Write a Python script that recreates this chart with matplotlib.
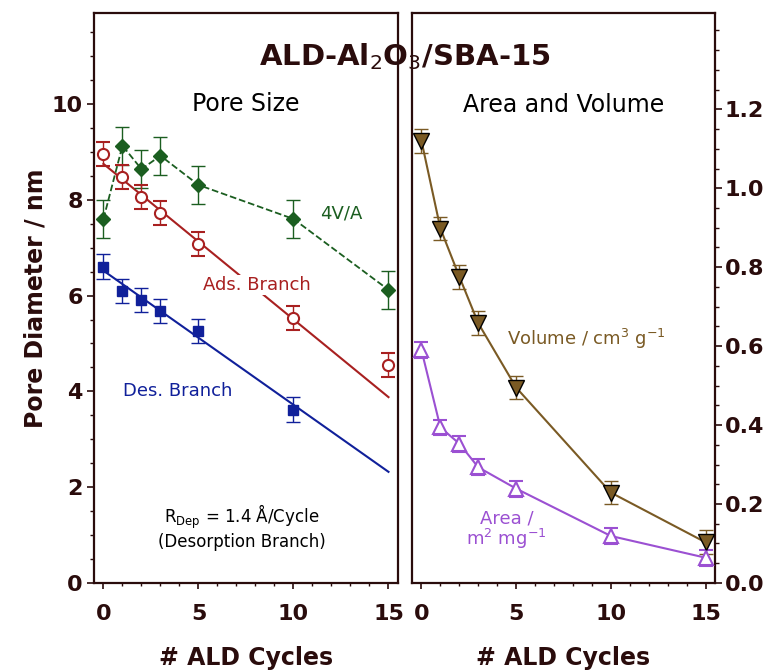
import matplotlib
matplotlib.use('Agg')
import matplotlib.pyplot as plt
from matplotlib.ticker import MultipleLocator, FixedLocator, FormatStrFormatter

plt.rcParams['font.family'] = ['DejaVu Sans']
plt.rcParams['mathtext.default'] = 'regular'

dark = '#2a0c0c'

# pore size data (nm) vs # ALD cycles
des_x = [0, 1, 2, 3, 5, 10]
des_y = [6.6, 6.1, 5.91, 5.67, 5.27, 3.62]
des_err = [0.26, 0.25, 0.25, 0.25, 0.25, 0.26]

cycles = [0, 1, 2, 3, 5, 10, 15]
ads_y = [8.96, 8.48, 8.05, 7.72, 7.07, 5.54, 4.55]
ads_err = [0.25, 0.25, 0.25, 0.25, 0.25, 0.25, 0.25]
va_y = [7.6, 9.13, 8.64, 8.92, 8.31, 7.6, 6.12]
va_err = [0.4, 0.4, 0.4, 0.4, 0.4, 0.4, 0.4]

# linear fits (end points)
fit_x = [0, 15]
des_fit = [6.52, 2.32]
ads_fit = [8.75, 3.88]

# area and volume
volume = [1.12, 0.898, 0.776, 0.658, 0.495, 0.229, 0.103]
vol_err = [0.03, 0.03, 0.03, 0.03, 0.03, 0.03, 0.03]
area = [0.59, 0.394, 0.353, 0.293, 0.239, 0.119, 0.064]
area_err = [0.02, 0.02, 0.02, 0.02, 0.02, 0.02, 0.02]

right_major = [0.0, 0.2, 0.4, 0.6, 0.8, 1.0, 1.2]

blue = '#10209a'
red = '#a82020'
green = '#1b5e20'
brown = '#7a5a24'
purple = '#9b50d2'

fig = plt.figure(figsize=(7.74, 6.70), dpi=100)
ax1 = fig.add_axes([0.1214, 0.1299, 0.3928, 0.8507])
ax2 = fig.add_axes([0.5323, 0.1299, 0.3915, 0.8507])

# ---- left panel: pore size
ax1.plot(fit_x, ads_fit, color=red, lw=1.5, zorder=2)
ax1.plot(fit_x, des_fit, color=blue, lw=1.5, zorder=2)
ax1.errorbar(cycles, va_y, yerr=va_err, color=green, ls='--', lw=1.3, marker='D', ms=7.5,
             ecolor=green, elinewidth=1, capsize=5, capthick=1, zorder=3)
ax1.errorbar(cycles, ads_y, yerr=ads_err, color=red, ls='none', marker='o', ms=8, mfc='white',
             mec=red, mew=1.5, ecolor=red, elinewidth=1, capsize=5, capthick=1, zorder=3)
ax1.errorbar(des_x, des_y, yerr=des_err, color=blue, ls='none', marker='s', ms=7.5,
             ecolor=blue, elinewidth=1, capsize=5, capthick=1, zorder=3)

ax1.text(12.5, 7.72, '4V/A', color=green, fontsize=13, ha='center', va='center')
ax1.text(8.05, 6.22, 'Ads. Branch', color=red, fontsize=13, ha='center', va='center',
         bbox=dict(facecolor='white', edgecolor='none', pad=1), zorder=4)
ax1.text(3.9, 4.0, 'Des. Branch', color=blue, fontsize=13, ha='center', va='center')
ax1.text(7.3, 1.38, 'R$_{Dep}$ = 1.4 Å/Cycle', color='black', fontsize=12, ha='center', va='center')
ax1.text(7.3, 0.86, '(Desorption Branch)', color='black', fontsize=12, ha='center', va='center')
ax1.text(7.5, 10.0, 'Pore Size', color='black', fontsize=17, ha='center', va='center')

ax1.set_xlim(-0.5, 15.5)
ax1.set_ylim(0, 11.9)
ax1.xaxis.set_major_locator(MultipleLocator(5))
ax1.xaxis.set_minor_locator(MultipleLocator(1))
ax1.yaxis.set_major_locator(MultipleLocator(2))
ax1.yaxis.set_minor_locator(MultipleLocator(0.5))
ax1.set_ylabel('Pore Diameter / nm', fontsize=17, fontweight='bold', color=dark, labelpad=3)
ax1.set_xlabel('# ALD Cycles', fontsize=17, fontweight='bold', color=dark, labelpad=16)

# ---- right panel: area and volume
ax2.errorbar(cycles, volume, yerr=vol_err, color=brown, lw=1.5, marker='v', ms=11, mfc=brown,
             mec='black', mew=1, ecolor=brown, elinewidth=1, capsize=5, capthick=1, zorder=3)
ax2.errorbar(cycles, area, yerr=area_err, color=purple, lw=1.5, marker='^', ms=10, mfc='white',
             mec=purple, mew=1.5, ecolor=purple, elinewidth=1, capsize=5, capthick=1, zorder=3)

ax2.text(8.7, 0.617, 'Volume / cm$^3$ g$^{-1}$', color=brown, fontsize=13, ha='center', va='center')
ax2.text(4.5, 0.134, 'Area /\nm$^2$ mg$^{-1}$', color=purple, fontsize=13, ha='center',
         va='center', linespacing=1.0)
ax2.text(7.5, 1.21, 'Area and Volume', color='black', fontsize=17, ha='center', va='center')

ax2.set_xlim(-0.5, 15.5)
ax2.set_ylim(0, 1.444)
ax2.xaxis.set_major_locator(MultipleLocator(5))
ax2.xaxis.set_minor_locator(MultipleLocator(1))
ax2.yaxis.set_major_locator(FixedLocator(right_major))
ax2.yaxis.set_minor_locator(MultipleLocator(0.05))
ax2.yaxis.tick_right()
ax2.yaxis.set_major_formatter(FormatStrFormatter('%.1f'))
ax2.set_xlabel('# ALD Cycles', fontsize=17, fontweight='bold', color=dark, labelpad=16)

for ax in (ax1, ax2):
    for s in ax.spines.values():
        s.set_linewidth(1.6)
        s.set_color(dark)
    ax.tick_params(axis='x', which='major', direction='out', length=4, width=1.2, pad=11,
                   labelsize=16, colors=dark)
    ax.tick_params(axis='x', which='minor', direction='out', length=2.5, width=1, colors=dark)
    ax.tick_params(axis='y', which='major', direction='out', length=5, width=1.2, pad=3,
                   labelsize=16, colors=dark)
    ax.tick_params(axis='y', which='minor', direction='out', length=3, width=1, colors=dark)
    for lab in ax.get_xticklabels() + ax.get_yticklabels():
        lab.set_fontweight('bold')

ax2.tick_params(axis='y', which='both', left=False, right=True, pad=2)

fig.text(0.523, 0.903, r'ALD-Al$_\mathrm{2}$O$_\mathrm{3}$/SBA-15', fontsize=21, fontweight='bold',
         color=dark, ha='center', va='baseline')

fig.savefig('out.png', dpi=100)
